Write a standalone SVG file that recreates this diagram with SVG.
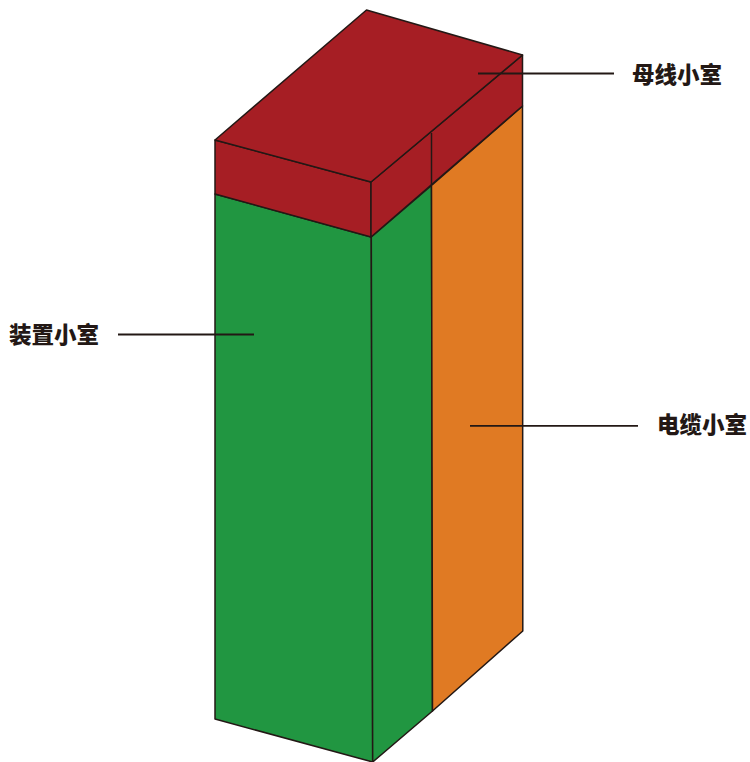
<svg xmlns="http://www.w3.org/2000/svg" width="750" height="762" viewBox="0 0 750 762">
<style>
.e{stroke:#231815;stroke-width:1.5;stroke-linejoin:round}
.r{fill:#a61e24}.g{fill:#219641}.o{fill:#e07a23}
.l{stroke:#231815;stroke-width:1.8;fill:none}
text{font-family:"Noto Sans CJK SC","Noto Sans",sans-serif;font-weight:900;font-size:22.500px;fill:#231815}
</style>
<rect width="750" height="762" fill="#fff"/>
<g id="device-compartment">
<polygon class="e g" points="215,194 371.3,237 372.7,762 215,719"/>
<polygon class="e g" points="371.3,237 431.5,185.500 432.500,711 372.7,762"/>
<text x="9" y="343">装置小室</text>
</g>
<g id="cable-compartment">
<polygon class="e o" points="431.5,185.500 522.5,106 522.8,631 432.500,711"/>
<text x="657" y="433">电缆小室</text>
</g>
<g id="busbar-compartment">
<polygon class="e r" points="215,140 371,182 371,237 215,194"/>
<polygon class="e r" points="371,182 522.5,55 522.5,106 371,237"/>
<polygon class="e r" points="215,140 366.5,10 522.5,55 371,182"/>
<line class="e" x1="431.5" y1="133" x2="431.5" y2="185"/>
<text x="632" y="83">母线小室</text>
</g>
<g id="connectors">
<line class="l" x1="478" y1="73.500" x2="614" y2="73.500"/>
<line class="l" x1="118" y1="334.500" x2="254" y2="334.500"/>
<line class="l" x1="470" y1="425.800" x2="638" y2="425.800"/>
</g>
</svg>
